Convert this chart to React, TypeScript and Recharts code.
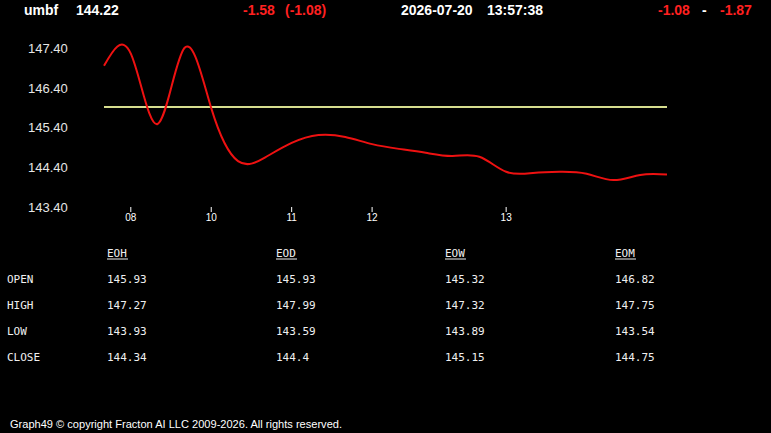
import { LineChart, Line, XAxis, YAxis, ReferenceLine } from "recharts";

const SANS = "'Liberation Sans', Arial, sans-serif";
const MONO = "'DejaVu Sans Mono', monospace";

// price samples, equally spaced through the session
const prices = [
  146.97, 147.28, 145.5, 147.42, 145.9, 144.56, 144.65, 145.02, 145.22, 145.17, 144.99,
  144.87, 144.77, 144.69, 144.67, 144.29, 144.26, 144.29, 144.24, 144.08, 144.21, 144.22,
];
const tickIndex = [1, 4, 7, 10, 15];
const tickLabels = ["08", "10", "11", "12", "13"];
const yTicks = [143.4, 144.4, 145.4, 146.4, 147.4];
const openLevel = 145.93;

const columns = ["EOH", "EOD", "EOW", "EOM"];
const rowNames = ["OPEN", "HIGH", "LOW", "CLOSE"];
const eoh = ["145.93", "147.27", "143.93", "144.34"];
const eod = ["145.93", "147.99", "143.59", "144.4"];
const eow = ["145.32", "147.32", "143.89", "145.15"];
const eom = ["146.82", "147.75", "143.54", "144.75"];

const data = prices.map((p, i) => ({ i, p }));
const colValues = [eoh, eod, eow, eom];
const colX = [107, 276, 445, 615];

const RED = "#ff2020";
const WHITE = "#ffffff";

function YTick({ y, payload }: any) {
  return (
    <text x={28} y={y} dy="0.35em" fill="#e6e6e6" fontSize={13} fontFamily={SANS}>
      {payload.value.toFixed(2)}
    </text>
  );
}

export default function App() {
  return (
    <div style={{ position: "fixed", left: 0, top: 0, width: 771, height: 433, background: "#000", overflow: "hidden" }}>
      <div style={{ position: "absolute", left: 0, top: 0 }}>
        <LineChart width={771} height={237} data={data} margin={{ top: 33, right: 104, bottom: 0, left: 0 }}>
          <XAxis
            type="number"
            dataKey="i"
            domain={[0, prices.length - 1]}
            ticks={tickIndex}
            tickFormatter={v => tickLabels[tickIndex.indexOf(v)]}
            axisLine={false}
            tickLine={{ stroke: "#fff" }}
            tickSize={5}
            height={30}
            tick={{ fill: "#fff", fontSize: 10, fontFamily: SANS }}
          />
          <YAxis
            domain={[143.4, 147.8]}
            ticks={yTicks}
            width={104}
            axisLine={false}
            tickLine={false}
            allowDataOverflow
            tick={<YTick />}
          />
          <ReferenceLine y={openLevel} stroke="#d6dd8e" strokeWidth={2} />
          <Line type="natural" dataKey="p" stroke="#ee1111" strokeWidth={2} dot={false} isAnimationActive={false} />
        </LineChart>
      </div>

      <svg width={771} height={433} style={{ position: "absolute", left: 0, top: 0, pointerEvents: "none" }}>
        <g fontFamily={SANS} fontSize={14} fontWeight="bold">
          <text x={24} y={15} fill={WHITE}>umbf</text>
          <text x={76} y={15} fill={WHITE}>144.22</text>
          <text x={243} y={15} fill={RED}>-1.58</text>
          <text x={285} y={15} fill={RED}>(-1.08)</text>
          <text x={401} y={15} fill={WHITE}>2026-07-20</text>
          <text x={487} y={15} fill={WHITE}>13:57:38</text>
          <text x={658} y={15} fill={RED}>-1.08</text>
          <text x={702} y={15} fill={WHITE}>-</text>
          <text x={720} y={15} fill={RED}>-1.87</text>
        </g>

        <g fontFamily={MONO} fontSize={11} fill="#f0f0f0">
          {columns.map((c, k) => (
            <g key={c}>
              <text x={colX[k]} y={257}>{c}</text>
              <line x1={colX[k]} x2={colX[k] + 21} y1={259} y2={259} stroke="#f0f0f0" strokeWidth={1} />
              {colValues[k].map((v, r) => (
                <text key={r} x={colX[k]} y={283 + r * 26}>{v}</text>
              ))}
            </g>
          ))}
          {rowNames.map((n, r) => (
            <text key={n} x={7} y={283 + r * 26}>{n}</text>
          ))}
        </g>

        <text x={10} y={428} fill={WHITE} fontFamily={SANS} fontSize={11} textLength={332} lengthAdjust="spacingAndGlyphs">
          Graph49 © copyright Fracton AI LLC 2009-2026. All rights reserved.
        </text>
      </svg>
    </div>
  );
}
